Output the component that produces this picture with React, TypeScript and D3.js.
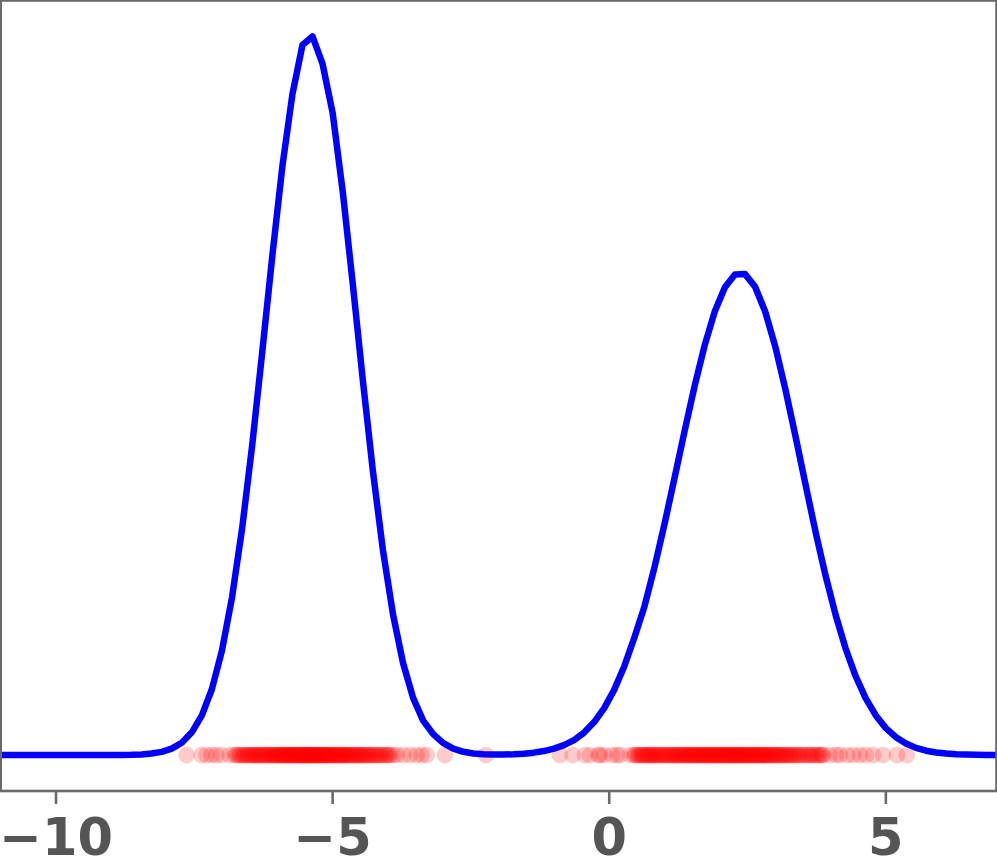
import React from "react";
import * as d3 from "d3";

// KDE curve sampled on an evenly spaced grid (100 samples from gridStart to gridEnd)
const gridStart = -11;
const gridEnd = 7;
const density = [
  0, 0, 0, 0, 0, 0, 0, 0, 0, 0, 0, 0,
  0.00004, 0.0001, 0.00024, 0.00053, 0.00112, 0.00227, 0.00437, 0.00802,
  0.01402, 0.02333, 0.03695, 0.05571, 0.07997, 0.10931, 0.14224, 0.17616,
  0.20779, 0.23329, 0.25071, 0.25374, 0.24401, 0.22673, 0.19908, 0.16643,
  0.13244, 0.10035, 0.07236, 0.04972, 0.03251, 0.0202, 0.01216, 0.0074,
  0.00423, 0.00229, 0.00116, 0.00058, 0.0003, 0.00021, 0.0002, 0.0003,
  0.00049, 0.00085, 0.00141, 0.00226, 0.00353, 0.00529, 0.00793, 0.01164,
  0.01657, 0.0231, 0.03138, 0.0415, 0.0525, 0.06633, 0.08166, 0.09799,
  0.11456, 0.1305, 0.14485, 0.15673, 0.1652, 0.16971, 0.16982, 0.16534,
  0.15663, 0.14432, 0.12937, 0.11283, 0.09573, 0.07898, 0.06343, 0.04954,
  0.03762, 0.02782, 0.01999, 0.014, 0.00952, 0.00631, 0.00406, 0.00254,
  0.00155, 0.00092, 0.00053, 0.0003, 0.00016, 0.00008, 0.00004, 0.00002,
];

// sample points (x positions), drawn on the baseline
const samplesLeft = [
  -7.64, -7.37, -7.28, -7.19, -7.1, -7.01, -6.86, -6.77,
  -6.71, -6.66, -6.62, -6.58, -6.55, -6.51, -6.47, -6.44, -6.4, -6.37,
  -6.33, -6.3, -6.27, -6.24, -6.21, -6.18, -6.15, -6.12, -6.1, -6.07,
  -6.04, -6.02, -5.99, -5.97, -5.94, -5.92, -5.89, -5.87, -5.85, -5.82,
  -5.8, -5.78, -5.76, -5.73, -5.71, -5.69, -5.67, -5.65, -5.62, -5.6,
  -5.58, -5.56, -5.54, -5.52, -5.5, -5.48, -5.46, -5.44, -5.42, -5.4,
  -5.38, -5.36, -5.34, -5.32, -5.3, -5.28, -5.26, -5.24, -5.22, -5.2,
  -5.17, -5.15, -5.13, -5.11, -5.09, -5.06, -5.04, -5.02, -4.99, -4.97,
  -4.95, -4.92, -4.9, -4.87, -4.85, -4.82, -4.8, -4.77, -4.74, -4.72,
  -4.69, -4.66, -4.63, -4.6, -4.57, -4.54, -4.51, -4.48, -4.45, -4.41,
  -4.38, -4.34, -4.31, -4.27, -4.23, -4.19, -4.15, -4.11, -4.06, -4.01,
  -3.96, -3.84, -3.72, -3.6, -3.48, -3.39, -3.3, -2.97, -2.23,
];
const samplesLeftCore = [
  -6.74, -6.68, -6.6, -6.53, -6.46, -6.41, -6.35, -6.29, -6.22, -6.16,
  -6.09, -6.03, -5.98, -5.93, -5.88, -5.83, -5.79, -5.74, -5.7, -5.66,
  -5.61, -5.57, -5.53, -5.49, -5.45, -5.41, -5.37, -5.33, -5.29, -5.25,
  -5.21, -5.16, -5.12, -5.08, -5.03, -4.98, -4.93, -4.88, -4.83, -4.78,
  -4.73, -4.67, -4.61, -4.55, -4.49, -4.43, -4.36, -4.29, -4.21, -4.13,
  -4.04, -3.99, -3.9,
];
const samplesRight = [
  -0.89, -0.66, -0.44, -0.35, -0.2, -0.17, -0.09, 0.05, 0.14, 0.2, 0.38, 0.45,
  0.5, 0.55, 0.6, 0.64, 0.69, 0.73, 0.77, 0.81, 0.85, 0.88, 0.92, 0.95,
  0.99, 1.02, 1.05, 1.09, 1.12, 1.15, 1.18, 1.21, 1.24, 1.27, 1.3, 1.33,
  1.36, 1.39, 1.41, 1.44, 1.47, 1.5, 1.52, 1.55, 1.58, 1.6, 1.63, 1.66,
  1.68, 1.71, 1.73, 1.76, 1.78, 1.81, 1.83, 1.86, 1.88, 1.91, 1.93, 1.96,
  1.98, 2.01, 2.03, 2.06, 2.08, 2.1, 2.13, 2.15, 2.18, 2.2, 2.23, 2.25,
  2.27, 2.3, 2.32, 2.35, 2.37, 2.4, 2.42, 2.45, 2.47, 2.5, 2.52, 2.55,
  2.57, 2.6, 2.62, 2.65, 2.68, 2.7, 2.73, 2.75, 2.78, 2.81, 2.84, 2.86,
  2.89, 2.92, 2.95, 2.98, 3.01, 3.04, 3.07, 3.1, 3.14, 3.17, 3.21, 3.24,
  3.28, 3.32, 3.36, 3.4, 3.44, 3.49, 3.54, 3.59, 3.64, 3.7, 3.76, 3.82,
  3.87, 3.99, 4.1, 4.17, 4.3, 4.41, 4.53, 4.64, 4.77, 4.95, 5.2, 5.38,
];
const samplesRightCore = [
  0.47, 0.53, 0.58, 0.62, 0.67, 0.71, 0.75, 0.79, 0.83, 0.9, 0.97, 1.04,
  1.1, 1.17, 1.23, 1.29, 1.35, 1.4, 1.46, 1.51, 1.57, 1.62, 1.67, 1.72,
  1.77, 1.82, 1.87, 1.92, 1.97, 2.02, 2.07, 2.12, 2.17, 2.22, 2.26, 2.31,
  2.36, 2.41, 2.46, 2.51, 2.56, 2.61, 2.66, 2.71, 2.77, 2.82, 2.88, 2.94,
  3.0, 3.06, 3.12, 3.19, 3.26, 3.34, 3.42, 3.51, 3.61, 3.67, 3.73, 3.79,
  3.85,
];

const xTicks = [-10, -5, 0, 5];
const xTickLabels = ["\u221210", "\u22125", "0", "5"];

const W = 997;
const H = 865;
const plot = { left: 0.7, right: 996.5, top: 0.5, bottom: 791 };

export default function App() {
  const n = density.length;
  const xs = density.map((_, i) => gridStart + (i * (gridEnd - gridStart)) / (n - 1));
  const curve = xs.map((x, i) => ({ x, y: density[i] }));
  const ymax = d3.max(density) as number;

  const x = d3.scaleLinear().domain([-11, 7]).range([plot.left, plot.right]);
  const y = d3
    .scaleLinear()
    .domain([-0.05 * ymax, 1.05 * ymax])
    .range([plot.bottom, plot.top]);

  const line = d3
    .line<{ x: number; y: number }>()
    .x((d) => x(d.x))
    .y((d) => y(d.y));

  const samples = [...samplesLeft, ...samplesLeftCore, ...samplesRight, ...samplesRightCore];
  const spine = "#6a6a6a";

  return (
    <svg
      width={W}
      height={H}
      style={{ position: "absolute", left: 0, top: 0, background: "#fff" }}
    >
      <defs>
        <clipPath id="plotclip">
          <rect
            x={plot.left}
            y={plot.top}
            width={plot.right - plot.left}
            height={plot.bottom - plot.top}
          />
        </clipPath>
      </defs>
      <rect x={0} y={0} width={W} height={H} fill="#fff" />
      <g clipPath="url(#plotclip)">
        {samples.map((s, i) => (
          <circle
            key={i}
            cx={x(s)}
            cy={y(0)}
            r={8.4}
            fill="#ff0000"
            fillOpacity={0.2}
          />
        ))}
        <path
          d={line(curve) || ""}
          fill="none"
          stroke="#0000ff"
          strokeWidth={6.5}
          strokeLinejoin="round"
          strokeLinecap="square"
        />
      </g>
      {/* spines */}
      <rect
        x={plot.left}
        y={plot.top}
        width={plot.right - plot.left}
        height={plot.bottom - plot.top}
        fill="none"
        stroke={spine}
        strokeWidth={2.6}
      />
      {/* ticks */}
      {xTicks.map((t, i) => (
        <g key={t}>
          <line
            x1={x(t)}
            x2={x(t)}
            y1={plot.bottom}
            y2={plot.bottom + 13}
            stroke={spine}
            strokeWidth={2.6}
          />
          <text
            x={x(t)}
            y={855}
            textAnchor="middle"
            fontFamily="'DejaVu Sans', sans-serif"
            fontWeight="bold"
            fontSize={51}
            fill="#555555"
          >
            {xTickLabels[i]}
          </text>
        </g>
      ))}
    </svg>
  );
}
